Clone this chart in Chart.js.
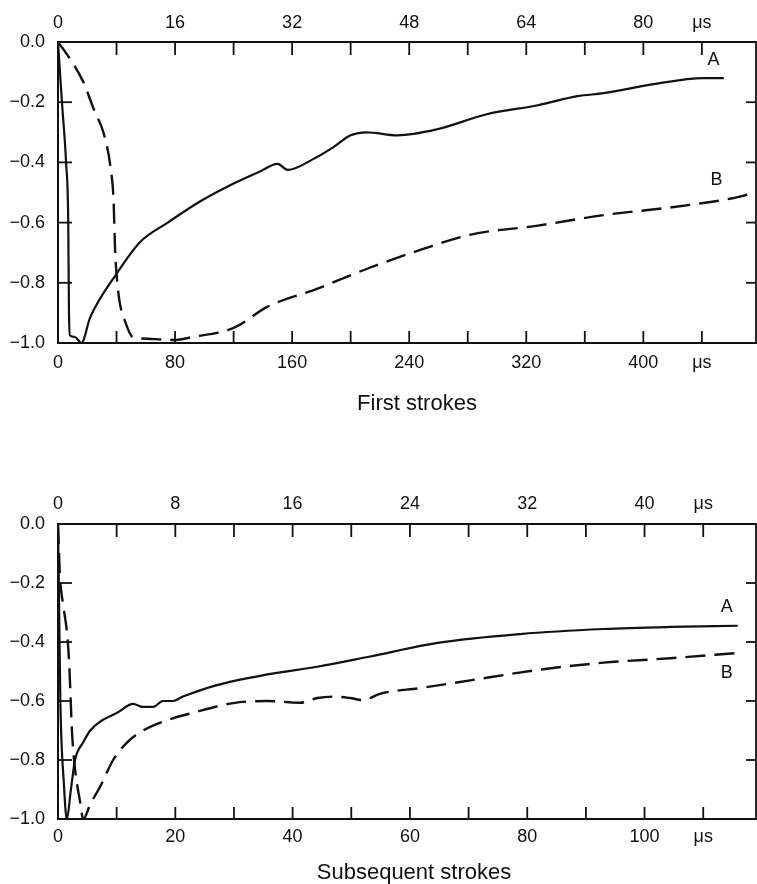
<!DOCTYPE html>
<html>
<head>
<meta charset="utf-8">
<script src="https://cdn.jsdelivr.net/npm/chart.js@4.4.1/dist/chart.umd.min.js"></script>
<style>
  html, body { margin: 0; padding: 0; background: #fff; }
  #wrap { position: relative; width: 757px; height: 884px; }
  canvas { position: absolute; left: 0; }
  #firstChart { top: 0; }
  #subChart { top: 440px; }
</style>
</head>
<body>
<div id="wrap">
  <canvas id="firstChart" width="757" height="440"></canvas>
  <canvas id="subChart" width="757" height="444"></canvas>
</div>
<script>
// First strokes: time on the lower (long) scale in µs, normalised current
const firstTimeA = [0, 2.7, 5.5, 7, 7.5, 8.2, 11.6, 16, 22, 40, 56, 75, 97, 120, 138, 150, 157, 174, 188, 200, 211, 232, 259, 293, 328, 355, 373, 407, 441, 455];
const firstValueA = [0, -0.2, -0.4, -0.6, -0.9, -0.975, -0.98, -1.0, -0.915, -0.77, -0.665, -0.6, -0.53, -0.47, -0.43, -0.405, -0.425, -0.39, -0.35, -0.31, -0.3, -0.31, -0.29, -0.24, -0.21, -0.18, -0.17, -0.14, -0.12, -0.12];
const firstTimeB = [0, 6, 17, 25, 31, 36, 38, 39, 40, 42, 46, 51, 58, 79, 92, 120, 143, 177, 213, 248, 282, 328, 373, 418, 441, 460, 473];
const firstValueB = [0, -0.04, -0.13, -0.23, -0.3, -0.42, -0.53, -0.69, -0.77, -0.86, -0.93, -0.98, -0.985, -0.99, -0.98, -0.95, -0.88, -0.82, -0.75, -0.69, -0.64, -0.61, -0.575, -0.55, -0.535, -0.52, -0.505];

// Subsequent strokes
const subTimeA = [0, 0.2, 0.4, 1.0, 1.5, 2.2, 2.9, 4.3, 5.5, 7.2, 10.1, 12.8, 14.5, 16.2, 17.9, 19.6, 21.3, 27.1, 35.7, 44.2, 53, 64.7, 78.8, 93, 104.4, 115.9];
const subValueA = [0, -0.3, -0.6, -0.88, -1.0, -0.9, -0.8, -0.74, -0.7, -0.67, -0.64, -0.61, -0.62, -0.62, -0.6, -0.6, -0.585, -0.546, -0.51, -0.484, -0.45, -0.403, -0.373, -0.356, -0.349, -0.345];
const subTimeB = [0, 0.34, 0.85, 1.54, 1.9, 2.4, 2.9, 3.75, 4.3, 5.5, 7.2, 9.4, 11.8, 14.5, 18.6, 23, 29.9, 35.7, 41.3, 44.2, 46.9, 49.8, 52, 55, 61.8, 70.3, 81.7, 93, 104.4, 115.9];
const subValueB = [0, -0.18, -0.27, -0.37, -0.47, -0.71, -0.83, -0.94, -1.0, -0.95, -0.89, -0.8, -0.74, -0.7, -0.665, -0.64, -0.607, -0.6, -0.606, -0.59, -0.585, -0.59, -0.597, -0.575, -0.556, -0.53, -0.495, -0.47, -0.455, -0.437];

// tick labels
const firstBottomLabels = [0, 80, 160, 240, 320, 400];
const firstTopLabels = [0, 16, 32, 48, 64, 80];
const subBottomLabels = [0, 20, 40, 60, 80, 100];
const subTopLabels = [0, 8, 16, 24, 32, 40];
const yTickLabels = ['0.0', '\u22120.2', '\u22120.4', '\u22120.6', '\u22120.8', '\u22121.0'];
const unitLabel = '\u03bcs';
const curveNames = ['A', 'B'];

const ink = '#111';
const fontFamily = '"Liberation Sans", Arial, Helvetica, sans-serif';

// short tick marks pointing into the plot, plus the right-hand frame line
const inwardTicks = {
    id: 'inwardTicks',
    afterDraw(chart, args, opts) {
        const { ctx, chartArea: a, scales } = chart;
        ctx.save();
        ctx.strokeStyle = ink;
        ctx.lineWidth = 1.8;
        const seg = (x1, y1, x2, y2) => { ctx.beginPath(); ctx.moveTo(x1, y1); ctx.lineTo(x2, y2); ctx.stroke(); };
        const inner = (s, v) => v > s.min + 1e-6 && v < s.max - 1e-6;
        seg(a.right, a.top - 1, a.right, a.bottom + 1);
        scales.x.ticks.forEach(t => {
            if (!inner(scales.x, t.value)) return;
            const px = scales.x.getPixelForValue(t.value);
            seg(px, a.bottom, px, a.bottom - opts.bottom);
        });
        scales.x2.ticks.forEach(t => {
            if (!inner(scales.x2, t.value)) return;
            const px = scales.x2.getPixelForValue(t.value);
            seg(px, a.top, px, a.top + opts.top);
        });
        scales.y.ticks.forEach(t => {
            if (!inner(scales.y, t.value)) return;
            const py = scales.y.getPixelForValue(t.value);
            seg(a.left, py, a.left + opts.left, py);
            seg(a.right, py, a.right - opts.right, py);
        });
        ctx.restore();
    }
};

// "A" / "B" next to the curve ends, and the caption under each panel
const panelText = {
    id: 'panelText',
    afterDatasetsDraw(chart, args, opts) {
        const { ctx, chartArea: a, scales: { x, y } } = chart;
        ctx.save();
        ctx.fillStyle = ink;
        ctx.textAlign = 'center';
        ctx.textBaseline = 'middle';
        ctx.font = '18px ' + fontFamily;
        opts.items.forEach(it => ctx.fillText(it.text, x.getPixelForValue(it.x), y.getPixelForValue(it.y)));
        ctx.font = '22px ' + fontFamily;
        ctx.fillText(opts.title, (a.left + a.right) / 2 + opts.titleDx, a.bottom + opts.titleDy);
        ctx.restore();
    }
};

function toPoints(times, values) {
    return times.map((t, i) => ({ x: t, y: values[i] }));
}

function makeChart(id, c) {
    const tickFont = { family: fontFamily, size: 18 };
    const ctx = document.getElementById(id).getContext('2d');
    return new Chart(ctx, {
        type: 'line',
        data: {
            datasets: [{
                label: curveNames[0],
                data: toPoints(c.timeA, c.valueA),
                borderColor: ink,
                borderWidth: 2.2,
                pointRadius: 0,
                cubicInterpolationMode: 'monotone'
            }, {
                label: curveNames[1],
                data: toPoints(c.timeB, c.valueB),
                borderColor: ink,
                borderWidth: 2.4,
                borderDash: [20, 9],
                pointRadius: 0,
                cubicInterpolationMode: 'monotone'
            }]
        },
        options: {
            responsive: false,
            animation: false,
            events: [],
            layout: { padding: { right: 1 } },
            plugins: {
                legend: { display: false },
                tooltip: { enabled: false },
                inwardTicks: { top: 13, bottom: 12, left: 14, right: 10 },
                panelText: { items: c.labels, title: c.title, titleDx: c.titleDx, titleDy: c.titleDy }
            },
            scales: {
                x: {
                    type: 'linear',
                    position: 'bottom',
                    min: 0,
                    max: c.bottomMax,
                    grid: { display: false, drawTicks: false },
                    border: { color: ink, width: 2 },
                    ticks: {
                        stepSize: c.bottomStep,
                        includeBounds: false,
                        autoSkip: false,
                        maxRotation: 0,
                        padding: c.bottomPad,
                        color: ink,
                        font: tickFont,
                        callback: v => c.bottomLabels.includes(v) ? String(v) : (v === c.bottomUnitAt ? unitLabel : '')
                    },
                    afterFit: s => { s.height = c.bottomHeight; }
                },
                x2: {
                    type: 'linear',
                    position: 'top',
                    min: 0,
                    max: c.bottomMax / c.ratio,
                    grid: { display: false, drawTicks: false },
                    border: { color: ink, width: 2 },
                    ticks: {
                        stepSize: c.topStep,
                        includeBounds: false,
                        autoSkip: false,
                        maxRotation: 0,
                        padding: c.topPad,
                        color: ink,
                        font: tickFont,
                        callback: v => c.topLabels.includes(v) ? String(v) : (v === c.topUnitAt ? unitLabel : '')
                    },
                    afterFit: s => { s.height = c.topHeight; }
                },
                y: {
                    min: -1,
                    max: 0,
                    grid: { display: false, drawTicks: false },
                    border: { color: ink, width: 2 },
                    ticks: {
                        stepSize: 0.2,
                        padding: 13,
                        color: ink,
                        font: tickFont,
                        callback: v => yTickLabels[Math.round(-v / 0.2)]
                    },
                    afterFit: s => { s.width = 58; }
                }
            }
        },
        plugins: [inwardTicks, panelText]
    });
}

document.addEventListener('DOMContentLoaded', function () {
    makeChart('firstChart', {
        timeA: firstTimeA, valueA: firstValueA, timeB: firstTimeB, valueB: firstValueB,
        bottomMax: 477, ratio: 5, bottomStep: 40, topStep: 8,
        bottomLabels: firstBottomLabels, topLabels: firstTopLabels,
        bottomUnitAt: 440, topUnitAt: 88,
        title: 'First strokes', titleDx: 10, titleDy: 61,
        topHeight: 42, bottomHeight: 97, topPad: 8, bottomPad: 9,
        labels: [{ text: curveNames[0], x: 448, y: -0.06 }, { text: curveNames[1], x: 450, y: -0.46 }]
    });

    makeChart('subChart', {
        timeA: subTimeA, valueA: subValueA, timeB: subTimeB, valueB: subValueB,
        bottomMax: 119, ratio: 2.5, bottomStep: 10, topStep: 4,
        bottomLabels: subBottomLabels, topLabels: subTopLabels,
        bottomUnitAt: 110, topUnitAt: 44,
        title: 'Subsequent strokes', titleDx: 7, titleDy: 54,
        topHeight: 84, bottomHeight: 65, topPad: 9, bottomPad: 7,
        labels: [{ text: curveNames[0], x: 114, y: -0.28 }, { text: curveNames[1], x: 114, y: -0.505 }]
    });
});
</script>
</body>
</html>
